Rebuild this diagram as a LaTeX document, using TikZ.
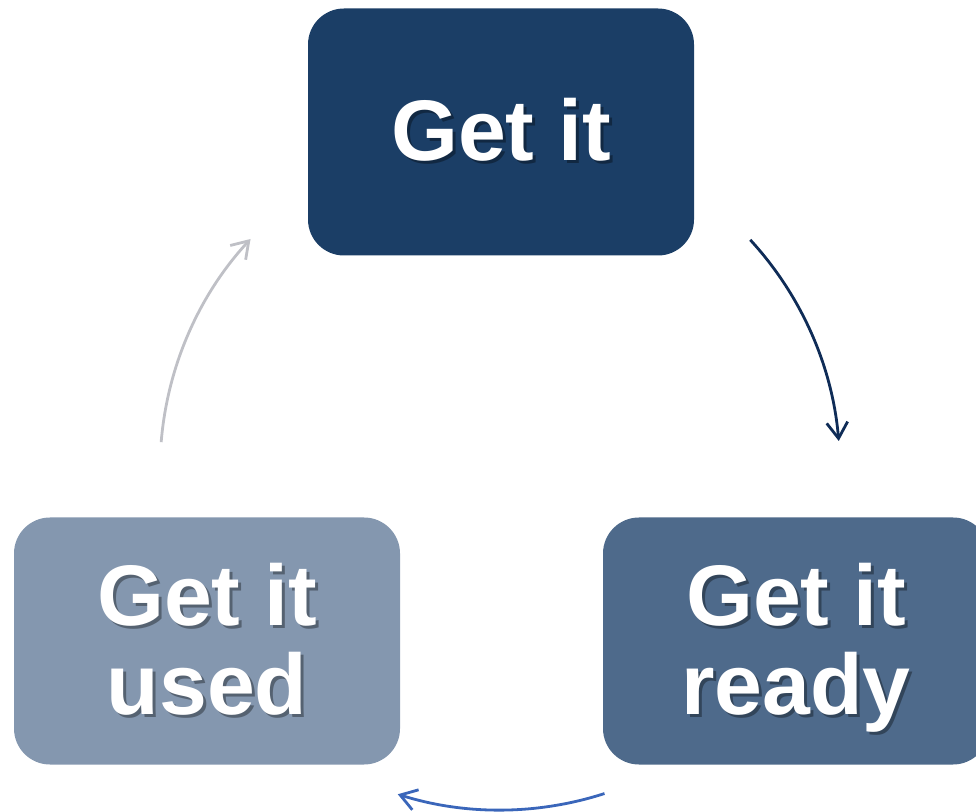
\documentclass[tikz,border=0pt]{standalone}
\usepackage{fontspec}
\setmainfont{Liberation Sans}
\usetikzlibrary{arrows.meta}
\definecolor{stageA}{HTML}{1B3E66}
\definecolor{stageB}{HTML}{4E6A8B}
\definecolor{stageC}{HTML}{8497AF}
\definecolor{arrowA}{HTML}{0F2C57}
\definecolor{arrowB}{HTML}{3A66BA}
\definecolor{arrowC}{HTML}{BFC0C6}
\tikzset{
    stage/.style={rounded corners=36pt, minimum width=386pt, minimum height=247pt, inner sep=0pt},
    stagetext/.style={text=white, font=\bfseries\fontsize{86}{89}\selectfont, align=center, inner sep=0pt},
    shadowtext/.style={stagetext, text=black, opacity=.35},
    cyclearrow/.style={line width=2.8pt, -{Straight Barb[length=16pt,width=21pt]}}
}

\begin{document}
\begin{tikzpicture}[x=1pt,y=1pt]
    \useasboundingbox (0,0) rectangle (976,811);
    \clip (0,0) rectangle (976,811);
    \pgfmathsetmacro{\rad}{340}
    \coordinate (hub) at (500,341);
    \foreach \name/\x/\y/\shade/\words in {get/501/681/stageA/{Get it}, ready/796/172/stageB/{Get it\\\smash{ready}}, used/207/172/stageC/{Get it\\used}}{
        \node[stage, fill=\shade] (\name) at (\x,\y-2) {};
        \node[shadowtext] at ([shift={(3,-3)}]\x,\y) {\words};
        \node[stagetext] (\name-text) at (\x,\y) {\words};
    }
    \draw[cyclearrow, arrowA] (hub) ++(42.6:\rad) arc (42.6:4.9:\rad);
    \draw[cyclearrow, arrowB] (hub) ++(-72.1:\rad) arc (-72.1:-107.5:\rad);
    \draw[cyclearrow, arrowC] (hub) ++(175.3:\rad) arc (175.3:137.2:\rad);
\end{tikzpicture}
\end{document}
